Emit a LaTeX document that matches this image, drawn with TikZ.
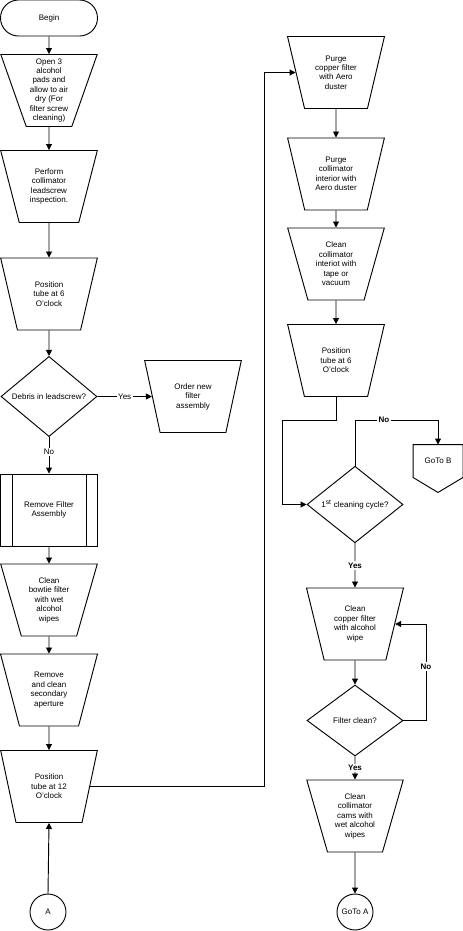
\documentclass[tikz,border=0pt]{standalone}
\usepackage{fontspec}
\setmainfont{Liberation Sans}
\usetikzlibrary{arrows.meta,shapes.geometric}

\begin{document}
\begin{tikzpicture}[x=0.75pt,y=-0.75pt,>={Triangle[length=4.5pt,width=4.5pt]},line width=0.7pt,
  txt/.style={font=\fontsize{6}{7.1}\selectfont,align=center},
  task/.style={txt,draw,trapezium,shape border rotate=180,trapezium angle=71.6,trapezium stretches=true,minimum width=72.75pt,minimum height=54pt,inner sep=0pt},
  check/.style={txt,draw,diamond,minimum width=72pt,minimum height=53.25pt,inner sep=0pt},
  term/.style={txt,draw,rounded corners=13.5pt,minimum width=72.75pt,minimum height=27pt},
  subproc/.style={txt,draw,rectangle,minimum width=72.75pt,minimum height=54pt},
  link/.style={txt,draw,circle,minimum size=27pt,inner sep=0pt},
  lbl/.style={txt,fill=white,inner sep=1pt},
  blbl/.style={lbl,font=\fontsize{6}{7.1}\selectfont\bfseries}]
  \useasboundingbox (0,0) rectangle (463,931);
  \node[term] (begin) at (49,18) {Begin};
  \node[task] (pads) at (49,90.5) {Open 3\\alcohol\\pads and\\allow to air\\dry (For\\filter screw\\cleaning)};
  \node[task] (inspect) at (49,186.5) {Perform\\collimator\\leadscrew\\inspection.};
  \node[task] (pos6) at (49,294) {Position\\tube at 6\\O'clock};
  \node[check] (debris) at (49,396.5) {Debris in leadscrew?};
  \node[task] (order) at (193,396.5) {Order new\\filter\\assembly};
  \node[subproc] (remove) at (49,510) {Remove Filter\\Assembly};
  \draw ([xshift=9pt]remove.north west) -- ([xshift=9pt]remove.south west);
  \draw ([xshift=-9pt]remove.north east) -- ([xshift=-9pt]remove.south east);
  \node[task] (bowtie) at (49,600) {Clean\\bowtie filter\\with wet\\alcohol\\wipes};
  \node[task] (aperture) at (49,690) {Remove\\and clean\\secondary\\aperture};
  \node[task] (pos12) at (49,786.5) {Position\\tube at 12\\O'clock};
  \node[link] (a) at (48,912) {A};
  \coordinate (jog) at (264,0);

  \node[task] (purgecu) at (336,72.5) {Purge\\copper filter\\with Aero\\duster};
  \node[task] (purgecol) at (336,174) {Purge\\collimator\\interior with\\Aero duster};
  \node[task] (cleancol) at (336,264) {Clean\\collimator\\interiot with\\tape or\\vacuum};
  \node[task] (pos6b) at (336,360.5) {Position\\tube at 6\\O'clock};
  \node[check] (cycle) at (355,504.5) {1\textsuperscript{st} cleaning cycle?};
  \node[txt,minimum width=36.75pt,minimum height=24pt,inner sep=0pt] (gotob) at (438,461) {GoTo B};
  \draw (gotob.north west) -- (gotob.north east) -- (gotob.south east) -- ([yshift=-11.25pt]gotob.south) -- (gotob.south west) -- cycle;
  \node[task] (cleancu) at (355,624) {Clean\\copper filter\\with alcohol\\wipe};
  \node[check] (fclean) at (355,720.5) {Filter clean?};
  \node[task] (cams) at (355,816) {Clean\\collimator\\cams with\\wet alcohol\\wipes};
  \node[link] (gotoa) at (355,912) {GoTo A};
  \coordinate (turn) at (282,420);
  \coordinate (loop) at (426,0);

  \draw[->] (begin) -- (pads);
  \draw[->] (pads) -- (inspect);
  \draw[->] (inspect) -- (pos6);
  \draw[->] (pos6) -- (debris);
  \draw[->] (debris.east) -- node[lbl] {Yes} (order.west);
  \draw[->] (debris.south) -- node[lbl,pos=0.4] {No} (remove.north);
  \draw[->] (remove) -- (bowtie);
  \draw[->] (bowtie) -- (aperture);
  \draw[->] (aperture) -- (pos12);
  \draw[->] (a.north) -- (pos12.south);
  \draw[->] (pos12.east) -- (pos12.east -| jog) |- (purgecu.west);
  \draw[->] (purgecu) -- (purgecol);
  \draw[->] (purgecol) -- (cleancol);
  \draw[->] (cleancol) -- (pos6b);
  \draw[->] (pos6b.south) |- (turn) |- (cycle.west);
  \draw[->] (cycle.north) -- (cycle.north |- turn) -- node[blbl,pos=0.35] {No} (gotob.north |- turn) -- (gotob.north);
  \draw[->] (cycle.south) -- node[blbl] {Yes} (cleancu.north);
  \draw[->] (cleancu) -- (fclean);
  \draw[->] (fclean.east) -- (fclean.east -| loop) -- node[blbl,pos=0.56] {No} (cleancu.east -| loop) -- (cleancu.east);
  \draw[->] (fclean.south) -- node[blbl] {Yes} (cams.north);
  \draw[->] (cams.south) -- (gotoa.north);
\end{tikzpicture}
\end{document}
